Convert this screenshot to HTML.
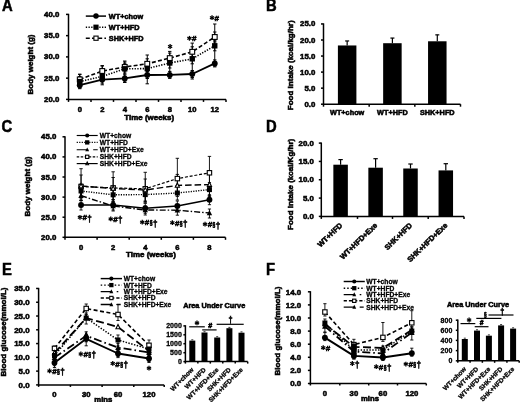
<!DOCTYPE html>
<html><head><meta charset="utf-8"><style>
html,body{margin:0;padding:0;background:#fff;width:520px;height:402px;overflow:hidden}
svg{display:block}
text{font-family:"Liberation Sans", sans-serif}
</style></head><body>
<svg width="520" height="402" viewBox="0 0 520 402">
<defs><filter id="bl" x="0" y="0" width="100%" height="100%"><feGaussianBlur stdDeviation="0.45"/></filter></defs>
<rect width="520" height="402" fill="#fff"/>
<g filter="url(#bl)">
<text x="1.90" y="10.80" font-size="15.6" text-anchor="start" font-weight="bold" transform="translate(1.90 10.80) scale(0.95 1) translate(-1.90 -10.80)" stroke="#000" stroke-width="0.5">A</text>
<text x="265.90" y="10.80" font-size="15.6" text-anchor="start" font-weight="bold" transform="translate(265.90 10.80) scale(0.95 1) translate(-265.90 -10.80)" stroke="#000" stroke-width="0.5">B</text>
<text x="1.40" y="131.90" font-size="15.6" text-anchor="start" font-weight="bold" transform="translate(1.40 131.90) scale(0.95 1) translate(-1.40 -131.90)" stroke="#000" stroke-width="0.5">C</text>
<text x="266.00" y="132.20" font-size="15.6" text-anchor="start" font-weight="bold" transform="translate(266.00 132.20) scale(0.95 1) translate(-266.00 -132.20)" stroke="#000" stroke-width="0.5">D</text>
<text x="2.00" y="274.90" font-size="15.6" text-anchor="start" font-weight="bold" transform="translate(2.00 274.90) scale(0.95 1) translate(-2.00 -274.90)" stroke="#000" stroke-width="0.5">E</text>
<text x="266.00" y="274.90" font-size="15.6" text-anchor="start" font-weight="bold" transform="translate(266.00 274.90) scale(0.95 1) translate(-266.00 -274.90)" stroke="#000" stroke-width="0.5">F</text>
<line x1="68.50" y1="13.80" x2="68.50" y2="100.00" stroke="#000" stroke-width="1.5"/>
<line x1="66.00" y1="14.40" x2="68.50" y2="14.40" stroke="#000" stroke-width="1.5"/>
<text x="59.30" y="16.91" font-size="7.8" text-anchor="end" font-weight="bold" stroke="#000" stroke-width="0.55">40.0</text>
<line x1="66.00" y1="35.65" x2="68.50" y2="35.65" stroke="#000" stroke-width="1.5"/>
<text x="59.30" y="38.16" font-size="7.8" text-anchor="end" font-weight="bold" stroke="#000" stroke-width="0.55">35.0</text>
<line x1="66.00" y1="56.90" x2="68.50" y2="56.90" stroke="#000" stroke-width="1.5"/>
<text x="59.30" y="59.41" font-size="7.8" text-anchor="end" font-weight="bold" stroke="#000" stroke-width="0.55">30.0</text>
<line x1="66.00" y1="78.15" x2="68.50" y2="78.15" stroke="#000" stroke-width="1.5"/>
<text x="59.30" y="80.66" font-size="7.8" text-anchor="end" font-weight="bold" stroke="#000" stroke-width="0.55">25.0</text>
<line x1="66.00" y1="99.40" x2="68.50" y2="99.40" stroke="#000" stroke-width="1.5"/>
<text x="59.30" y="101.91" font-size="7.8" text-anchor="end" font-weight="bold" stroke="#000" stroke-width="0.55">20.0</text>
<line x1="67.90" y1="99.40" x2="226.00" y2="99.40" stroke="#000" stroke-width="1.5"/>
<line x1="68.50" y1="99.40" x2="68.50" y2="101.90" stroke="#000" stroke-width="1.5"/>
<line x1="91.00" y1="99.40" x2="91.00" y2="101.90" stroke="#000" stroke-width="1.5"/>
<line x1="113.50" y1="99.40" x2="113.50" y2="101.90" stroke="#000" stroke-width="1.5"/>
<line x1="136.00" y1="99.40" x2="136.00" y2="101.90" stroke="#000" stroke-width="1.5"/>
<line x1="158.50" y1="99.40" x2="158.50" y2="101.90" stroke="#000" stroke-width="1.5"/>
<line x1="181.00" y1="99.40" x2="181.00" y2="101.90" stroke="#000" stroke-width="1.5"/>
<line x1="203.50" y1="99.40" x2="203.50" y2="101.90" stroke="#000" stroke-width="1.5"/>
<line x1="226.00" y1="99.40" x2="226.00" y2="101.90" stroke="#000" stroke-width="1.5"/>
<text x="79.75" y="112.04" font-size="7.6" text-anchor="middle" font-weight="bold" stroke="#000" stroke-width="0.55">0</text>
<text x="102.25" y="112.04" font-size="7.6" text-anchor="middle" font-weight="bold" stroke="#000" stroke-width="0.55">2</text>
<text x="124.75" y="112.04" font-size="7.6" text-anchor="middle" font-weight="bold" stroke="#000" stroke-width="0.55">4</text>
<text x="147.25" y="112.04" font-size="7.6" text-anchor="middle" font-weight="bold" stroke="#000" stroke-width="0.55">6</text>
<text x="169.75" y="112.04" font-size="7.6" text-anchor="middle" font-weight="bold" stroke="#000" stroke-width="0.55">8</text>
<text x="192.25" y="112.04" font-size="7.6" text-anchor="middle" font-weight="bold" stroke="#000" stroke-width="0.55">10</text>
<text x="214.75" y="112.04" font-size="7.6" text-anchor="middle" font-weight="bold" stroke="#000" stroke-width="0.55">12</text>
<text x="149.20" y="119.53" font-size="7.3" text-anchor="middle" font-weight="bold" transform="translate(149.20 119.53) scale(1.09 1) translate(-149.20 -119.53)" stroke="#000" stroke-width="0.55">Time (weeks)</text>
<text x="33.40" y="64.50" font-size="8" text-anchor="middle" font-weight="bold" transform="rotate(-90 33.40 64.50)" stroke="#000" stroke-width="0.55">Body weight (g)</text>
<line x1="79.75" y1="74.20" x2="79.75" y2="88.00" stroke="#000" stroke-width="1.0"/>
<line x1="78.05" y1="74.20" x2="81.45" y2="74.20" stroke="#000" stroke-width="1.0"/>
<line x1="78.05" y1="88.00" x2="81.45" y2="88.00" stroke="#000" stroke-width="1.0"/>
<line x1="79.75" y1="76.60" x2="79.75" y2="86.60" stroke="#000" stroke-width="1.0"/>
<line x1="78.05" y1="76.60" x2="81.45" y2="76.60" stroke="#000" stroke-width="1.0"/>
<line x1="78.05" y1="86.60" x2="81.45" y2="86.60" stroke="#000" stroke-width="1.0"/>
<line x1="79.75" y1="81.70" x2="79.75" y2="88.70" stroke="#000" stroke-width="1.0"/>
<line x1="78.05" y1="81.70" x2="81.45" y2="81.70" stroke="#000" stroke-width="1.0"/>
<line x1="78.05" y1="88.70" x2="81.45" y2="88.70" stroke="#000" stroke-width="1.0"/>
<line x1="79.75" y1="74.40" x2="79.75" y2="84.40" stroke="#000" stroke-width="1.0"/>
<line x1="78.05" y1="74.40" x2="81.45" y2="74.40" stroke="#000" stroke-width="1.0"/>
<line x1="78.05" y1="84.40" x2="81.45" y2="84.40" stroke="#000" stroke-width="1.0"/>
<line x1="102.25" y1="65.60" x2="102.25" y2="84.80" stroke="#000" stroke-width="1.0"/>
<line x1="100.55" y1="65.60" x2="103.95" y2="65.60" stroke="#000" stroke-width="1.0"/>
<line x1="100.55" y1="84.80" x2="103.95" y2="84.80" stroke="#000" stroke-width="1.0"/>
<line x1="102.25" y1="71.40" x2="102.25" y2="81.40" stroke="#000" stroke-width="1.0"/>
<line x1="100.55" y1="71.40" x2="103.95" y2="71.40" stroke="#000" stroke-width="1.0"/>
<line x1="100.55" y1="81.40" x2="103.95" y2="81.40" stroke="#000" stroke-width="1.0"/>
<line x1="102.25" y1="76.10" x2="102.25" y2="83.10" stroke="#000" stroke-width="1.0"/>
<line x1="100.55" y1="76.10" x2="103.95" y2="76.10" stroke="#000" stroke-width="1.0"/>
<line x1="100.55" y1="83.10" x2="103.95" y2="83.10" stroke="#000" stroke-width="1.0"/>
<line x1="102.25" y1="66.00" x2="102.25" y2="76.00" stroke="#000" stroke-width="1.0"/>
<line x1="100.55" y1="66.00" x2="103.95" y2="66.00" stroke="#000" stroke-width="1.0"/>
<line x1="100.55" y1="76.00" x2="103.95" y2="76.00" stroke="#000" stroke-width="1.0"/>
<line x1="124.75" y1="61.00" x2="124.75" y2="82.50" stroke="#000" stroke-width="1.0"/>
<line x1="123.05" y1="61.00" x2="126.45" y2="61.00" stroke="#000" stroke-width="1.0"/>
<line x1="123.05" y1="82.50" x2="126.45" y2="82.50" stroke="#000" stroke-width="1.0"/>
<line x1="124.75" y1="63.80" x2="124.75" y2="73.80" stroke="#000" stroke-width="1.0"/>
<line x1="123.05" y1="63.80" x2="126.45" y2="63.80" stroke="#000" stroke-width="1.0"/>
<line x1="123.05" y1="73.80" x2="126.45" y2="73.80" stroke="#000" stroke-width="1.0"/>
<line x1="124.75" y1="74.90" x2="124.75" y2="81.90" stroke="#000" stroke-width="1.0"/>
<line x1="123.05" y1="74.90" x2="126.45" y2="74.90" stroke="#000" stroke-width="1.0"/>
<line x1="123.05" y1="81.90" x2="126.45" y2="81.90" stroke="#000" stroke-width="1.0"/>
<line x1="124.75" y1="62.00" x2="124.75" y2="72.00" stroke="#000" stroke-width="1.0"/>
<line x1="123.05" y1="62.00" x2="126.45" y2="62.00" stroke="#000" stroke-width="1.0"/>
<line x1="123.05" y1="72.00" x2="126.45" y2="72.00" stroke="#000" stroke-width="1.0"/>
<line x1="147.25" y1="55.00" x2="147.25" y2="83.80" stroke="#000" stroke-width="1.0"/>
<line x1="145.55" y1="55.00" x2="148.95" y2="55.00" stroke="#000" stroke-width="1.0"/>
<line x1="145.55" y1="83.80" x2="148.95" y2="83.80" stroke="#000" stroke-width="1.0"/>
<line x1="147.25" y1="63.60" x2="147.25" y2="73.60" stroke="#000" stroke-width="1.0"/>
<line x1="145.55" y1="63.60" x2="148.95" y2="63.60" stroke="#000" stroke-width="1.0"/>
<line x1="145.55" y1="73.60" x2="148.95" y2="73.60" stroke="#000" stroke-width="1.0"/>
<line x1="147.25" y1="71.50" x2="147.25" y2="78.50" stroke="#000" stroke-width="1.0"/>
<line x1="145.55" y1="71.50" x2="148.95" y2="71.50" stroke="#000" stroke-width="1.0"/>
<line x1="145.55" y1="78.50" x2="148.95" y2="78.50" stroke="#000" stroke-width="1.0"/>
<line x1="147.25" y1="58.80" x2="147.25" y2="68.80" stroke="#000" stroke-width="1.0"/>
<line x1="145.55" y1="58.80" x2="148.95" y2="58.80" stroke="#000" stroke-width="1.0"/>
<line x1="145.55" y1="68.80" x2="148.95" y2="68.80" stroke="#000" stroke-width="1.0"/>
<line x1="169.75" y1="51.40" x2="169.75" y2="77.00" stroke="#000" stroke-width="1.0"/>
<line x1="168.05" y1="51.40" x2="171.45" y2="51.40" stroke="#000" stroke-width="1.0"/>
<line x1="168.05" y1="77.00" x2="171.45" y2="77.00" stroke="#000" stroke-width="1.0"/>
<line x1="169.75" y1="58.00" x2="169.75" y2="68.00" stroke="#000" stroke-width="1.0"/>
<line x1="168.05" y1="58.00" x2="171.45" y2="58.00" stroke="#000" stroke-width="1.0"/>
<line x1="168.05" y1="68.00" x2="171.45" y2="68.00" stroke="#000" stroke-width="1.0"/>
<line x1="169.75" y1="71.40" x2="169.75" y2="78.40" stroke="#000" stroke-width="1.0"/>
<line x1="168.05" y1="71.40" x2="171.45" y2="71.40" stroke="#000" stroke-width="1.0"/>
<line x1="168.05" y1="78.40" x2="171.45" y2="78.40" stroke="#000" stroke-width="1.0"/>
<line x1="169.75" y1="53.10" x2="169.75" y2="63.10" stroke="#000" stroke-width="1.0"/>
<line x1="168.05" y1="53.10" x2="171.45" y2="53.10" stroke="#000" stroke-width="1.0"/>
<line x1="168.05" y1="63.10" x2="171.45" y2="63.10" stroke="#000" stroke-width="1.0"/>
<line x1="192.25" y1="43.10" x2="192.25" y2="79.00" stroke="#000" stroke-width="1.0"/>
<line x1="190.55" y1="43.10" x2="193.95" y2="43.10" stroke="#000" stroke-width="1.0"/>
<line x1="190.55" y1="79.00" x2="193.95" y2="79.00" stroke="#000" stroke-width="1.0"/>
<line x1="192.25" y1="53.80" x2="192.25" y2="63.80" stroke="#000" stroke-width="1.0"/>
<line x1="190.55" y1="53.80" x2="193.95" y2="53.80" stroke="#000" stroke-width="1.0"/>
<line x1="190.55" y1="63.80" x2="193.95" y2="63.80" stroke="#000" stroke-width="1.0"/>
<line x1="192.25" y1="70.50" x2="192.25" y2="77.50" stroke="#000" stroke-width="1.0"/>
<line x1="190.55" y1="70.50" x2="193.95" y2="70.50" stroke="#000" stroke-width="1.0"/>
<line x1="190.55" y1="77.50" x2="193.95" y2="77.50" stroke="#000" stroke-width="1.0"/>
<line x1="192.25" y1="46.80" x2="192.25" y2="56.80" stroke="#000" stroke-width="1.0"/>
<line x1="190.55" y1="46.80" x2="193.95" y2="46.80" stroke="#000" stroke-width="1.0"/>
<line x1="190.55" y1="56.80" x2="193.95" y2="56.80" stroke="#000" stroke-width="1.0"/>
<line x1="214.75" y1="24.00" x2="214.75" y2="66.00" stroke="#000" stroke-width="1.0"/>
<line x1="213.05" y1="24.00" x2="216.45" y2="24.00" stroke="#000" stroke-width="1.0"/>
<line x1="213.05" y1="66.00" x2="216.45" y2="66.00" stroke="#000" stroke-width="1.0"/>
<line x1="214.75" y1="40.80" x2="214.75" y2="50.80" stroke="#000" stroke-width="1.0"/>
<line x1="213.05" y1="40.80" x2="216.45" y2="40.80" stroke="#000" stroke-width="1.0"/>
<line x1="213.05" y1="50.80" x2="216.45" y2="50.80" stroke="#000" stroke-width="1.0"/>
<line x1="214.75" y1="59.90" x2="214.75" y2="66.90" stroke="#000" stroke-width="1.0"/>
<line x1="213.05" y1="59.90" x2="216.45" y2="59.90" stroke="#000" stroke-width="1.0"/>
<line x1="213.05" y1="66.90" x2="216.45" y2="66.90" stroke="#000" stroke-width="1.0"/>
<line x1="214.75" y1="32.00" x2="214.75" y2="42.00" stroke="#000" stroke-width="1.0"/>
<line x1="213.05" y1="32.00" x2="216.45" y2="32.00" stroke="#000" stroke-width="1.0"/>
<line x1="213.05" y1="42.00" x2="216.45" y2="42.00" stroke="#000" stroke-width="1.0"/>
<polyline points="79.75,79.40 102.25,71.00 124.75,67.00 147.25,63.80 169.75,58.10 192.25,51.80 214.75,37.00" fill="none" stroke="#000" stroke-width="1.6" stroke-dasharray="4,2.2" stroke-linejoin="round"/>
<polyline points="79.75,81.60 102.25,76.40 124.75,68.80 147.25,68.60 169.75,63.00 192.25,58.80 214.75,45.80" fill="none" stroke="#000" stroke-width="1.6" stroke-dasharray="1.3,1.4" stroke-linejoin="round"/>
<polyline points="79.75,85.20 102.25,79.60 124.75,78.40 147.25,75.00 169.75,74.90 192.25,74.00 214.75,63.40" fill="none" stroke="#000" stroke-width="1.8" stroke-linejoin="round"/>
<rect x="77.35" y="77.00" width="4.80" height="4.80" fill="#fff" stroke="#000" stroke-width="1.1"/>
<rect x="77.05" y="78.90" width="5.40" height="5.40" fill="#000"/>
<circle cx="79.75" cy="85.20" r="2.94" fill="#000"/>
<rect x="99.85" y="68.60" width="4.80" height="4.80" fill="#fff" stroke="#000" stroke-width="1.1"/>
<rect x="99.55" y="73.70" width="5.40" height="5.40" fill="#000"/>
<circle cx="102.25" cy="79.60" r="2.94" fill="#000"/>
<rect x="122.35" y="64.60" width="4.80" height="4.80" fill="#fff" stroke="#000" stroke-width="1.1"/>
<rect x="122.05" y="66.10" width="5.40" height="5.40" fill="#000"/>
<circle cx="124.75" cy="78.40" r="2.94" fill="#000"/>
<rect x="144.85" y="61.40" width="4.80" height="4.80" fill="#fff" stroke="#000" stroke-width="1.1"/>
<rect x="144.55" y="65.90" width="5.40" height="5.40" fill="#000"/>
<circle cx="147.25" cy="75.00" r="2.94" fill="#000"/>
<rect x="167.35" y="55.70" width="4.80" height="4.80" fill="#fff" stroke="#000" stroke-width="1.1"/>
<rect x="167.05" y="60.30" width="5.40" height="5.40" fill="#000"/>
<circle cx="169.75" cy="74.90" r="2.94" fill="#000"/>
<rect x="189.85" y="49.40" width="4.80" height="4.80" fill="#fff" stroke="#000" stroke-width="1.1"/>
<rect x="189.55" y="56.10" width="5.40" height="5.40" fill="#000"/>
<circle cx="192.25" cy="74.00" r="2.94" fill="#000"/>
<rect x="212.35" y="34.60" width="4.80" height="4.80" fill="#fff" stroke="#000" stroke-width="1.1"/>
<rect x="212.05" y="43.10" width="5.40" height="5.40" fill="#000"/>
<circle cx="214.75" cy="63.40" r="2.94" fill="#000"/>
<line x1="170.10" y1="44.09" x2="170.10" y2="48.91" stroke="#000" stroke-width="1.3"/>
<line x1="172.19" y1="45.29" x2="168.01" y2="47.71" stroke="#000" stroke-width="1.3"/>
<line x1="172.19" y1="47.71" x2="168.01" y2="45.29" stroke="#000" stroke-width="1.3"/>
<line x1="189.43" y1="35.89" x2="189.43" y2="40.72" stroke="#000" stroke-width="1.3"/>
<line x1="191.52" y1="37.09" x2="187.33" y2="39.51" stroke="#000" stroke-width="1.3"/>
<line x1="191.52" y1="39.51" x2="187.33" y2="37.09" stroke="#000" stroke-width="1.3"/>
<text x="194.25" y="41.48" font-size="8.0" text-anchor="middle" font-weight="bold" stroke="#000" stroke-width="0.55">#</text>
<line x1="212.03" y1="15.29" x2="212.03" y2="20.11" stroke="#000" stroke-width="1.3"/>
<line x1="214.12" y1="16.49" x2="209.93" y2="18.91" stroke="#000" stroke-width="1.3"/>
<line x1="214.12" y1="18.91" x2="209.93" y2="16.49" stroke="#000" stroke-width="1.3"/>
<text x="216.85" y="20.88" font-size="8.0" text-anchor="middle" font-weight="bold" stroke="#000" stroke-width="0.55">#</text>
<line x1="85.80" y1="16.10" x2="106.00" y2="16.10" stroke="#000" stroke-width="1.5"/>
<circle cx="96.00" cy="16.10" r="2.73" fill="#000"/>
<text x="108.80" y="18.73" font-size="7.3" text-anchor="start" font-weight="bold" stroke="#000" stroke-width="0.55">WT+chow</text>
<line x1="85.80" y1="27.20" x2="106.00" y2="27.20" stroke="#000" stroke-width="1.5" stroke-dasharray="1.3,1.4"/>
<rect x="93.40" y="24.60" width="5.20" height="5.20" fill="#000"/>
<text x="108.80" y="29.83" font-size="7.3" text-anchor="start" font-weight="bold" stroke="#000" stroke-width="0.55">WT+HFD</text>
<line x1="85.80" y1="38.20" x2="106.00" y2="38.20" stroke="#000" stroke-width="1.5" stroke-dasharray="4,2.2"/>
<rect x="93.90" y="36.10" width="4.20" height="4.20" fill="#fff" stroke="#000" stroke-width="1.1"/>
<text x="108.80" y="40.83" font-size="7.3" text-anchor="start" font-weight="bold" stroke="#000" stroke-width="0.55">SHK+HFD</text>
<line x1="323.50" y1="23.35" x2="323.50" y2="104.80" stroke="#000" stroke-width="1.5"/>
<line x1="321.00" y1="23.95" x2="323.50" y2="23.95" stroke="#000" stroke-width="1.5"/>
<text x="315.30" y="26.46" font-size="7.8" text-anchor="end" font-weight="bold" stroke="#000" stroke-width="0.55">25.0</text>
<line x1="321.00" y1="40.00" x2="323.50" y2="40.00" stroke="#000" stroke-width="1.5"/>
<text x="315.30" y="42.51" font-size="7.8" text-anchor="end" font-weight="bold" stroke="#000" stroke-width="0.55">20.0</text>
<line x1="321.00" y1="56.05" x2="323.50" y2="56.05" stroke="#000" stroke-width="1.5"/>
<text x="315.30" y="58.56" font-size="7.8" text-anchor="end" font-weight="bold" stroke="#000" stroke-width="0.55">15.0</text>
<line x1="321.00" y1="72.10" x2="323.50" y2="72.10" stroke="#000" stroke-width="1.5"/>
<text x="315.30" y="74.61" font-size="7.8" text-anchor="end" font-weight="bold" stroke="#000" stroke-width="0.55">10.0</text>
<line x1="321.00" y1="88.15" x2="323.50" y2="88.15" stroke="#000" stroke-width="1.5"/>
<text x="315.30" y="90.66" font-size="7.8" text-anchor="end" font-weight="bold" stroke="#000" stroke-width="0.55">5.0</text>
<line x1="321.00" y1="104.20" x2="323.50" y2="104.20" stroke="#000" stroke-width="1.5"/>
<text x="315.30" y="106.71" font-size="7.8" text-anchor="end" font-weight="bold" stroke="#000" stroke-width="0.55">0.0</text>
<line x1="322.90" y1="104.20" x2="460.50" y2="104.20" stroke="#000" stroke-width="1.5"/>
<line x1="323.50" y1="104.20" x2="323.50" y2="106.70" stroke="#000" stroke-width="1.5"/>
<line x1="369.17" y1="104.20" x2="369.17" y2="106.70" stroke="#000" stroke-width="1.5"/>
<line x1="414.83" y1="104.20" x2="414.83" y2="106.70" stroke="#000" stroke-width="1.5"/>
<line x1="460.50" y1="104.20" x2="460.50" y2="106.70" stroke="#000" stroke-width="1.5"/>
<line x1="347.15" y1="40.96" x2="347.15" y2="45.46" stroke="#000" stroke-width="1.2"/>
<line x1="345.15" y1="40.96" x2="349.15" y2="40.96" stroke="#000" stroke-width="1.2"/>
<rect x="337.90" y="45.46" width="18.50" height="58.74" fill="#000"/>
<text x="347.15" y="115.03" font-size="7.3" text-anchor="middle" font-weight="bold" stroke="#000" stroke-width="0.55">WT+chow</text>
<line x1="392.40" y1="38.07" x2="392.40" y2="43.21" stroke="#000" stroke-width="1.2"/>
<line x1="390.40" y1="38.07" x2="394.40" y2="38.07" stroke="#000" stroke-width="1.2"/>
<rect x="383.15" y="43.21" width="18.50" height="60.99" fill="#000"/>
<text x="392.40" y="115.03" font-size="7.3" text-anchor="middle" font-weight="bold" stroke="#000" stroke-width="0.55">WT+HFD</text>
<line x1="437.30" y1="34.86" x2="437.30" y2="41.28" stroke="#000" stroke-width="1.2"/>
<line x1="435.30" y1="34.86" x2="439.30" y2="34.86" stroke="#000" stroke-width="1.2"/>
<rect x="428.05" y="41.28" width="18.50" height="62.92" fill="#000"/>
<text x="437.30" y="115.03" font-size="7.3" text-anchor="middle" font-weight="bold" stroke="#000" stroke-width="0.55">SHK+HFD</text>
<text x="293.40" y="65.25" font-size="8" text-anchor="middle" font-weight="bold" transform="rotate(-90 293.40 65.25)" stroke="#000" stroke-width="0.55">Food intake (kcal/kg/hr)</text>
<line x1="65.00" y1="136.20" x2="65.00" y2="237.90" stroke="#000" stroke-width="1.5"/>
<line x1="62.50" y1="136.80" x2="65.00" y2="136.80" stroke="#000" stroke-width="1.5"/>
<text x="56.30" y="139.31" font-size="7.8" text-anchor="end" font-weight="bold" stroke="#000" stroke-width="0.55">45.0</text>
<line x1="62.50" y1="156.90" x2="65.00" y2="156.90" stroke="#000" stroke-width="1.5"/>
<text x="56.30" y="159.41" font-size="7.8" text-anchor="end" font-weight="bold" stroke="#000" stroke-width="0.55">40.0</text>
<line x1="62.50" y1="177.00" x2="65.00" y2="177.00" stroke="#000" stroke-width="1.5"/>
<text x="56.30" y="179.51" font-size="7.8" text-anchor="end" font-weight="bold" stroke="#000" stroke-width="0.55">35.0</text>
<line x1="62.50" y1="197.10" x2="65.00" y2="197.10" stroke="#000" stroke-width="1.5"/>
<text x="56.30" y="199.61" font-size="7.8" text-anchor="end" font-weight="bold" stroke="#000" stroke-width="0.55">30.0</text>
<line x1="62.50" y1="217.20" x2="65.00" y2="217.20" stroke="#000" stroke-width="1.5"/>
<text x="56.30" y="219.71" font-size="7.8" text-anchor="end" font-weight="bold" stroke="#000" stroke-width="0.55">25.0</text>
<line x1="62.50" y1="237.30" x2="65.00" y2="237.30" stroke="#000" stroke-width="1.5"/>
<text x="56.30" y="239.81" font-size="7.8" text-anchor="end" font-weight="bold" stroke="#000" stroke-width="0.55">20.0</text>
<line x1="64.40" y1="237.30" x2="225.50" y2="237.30" stroke="#000" stroke-width="1.5"/>
<line x1="65.00" y1="237.30" x2="65.00" y2="239.80" stroke="#000" stroke-width="1.5"/>
<line x1="97.10" y1="237.30" x2="97.10" y2="239.80" stroke="#000" stroke-width="1.5"/>
<line x1="129.20" y1="237.30" x2="129.20" y2="239.80" stroke="#000" stroke-width="1.5"/>
<line x1="161.30" y1="237.30" x2="161.30" y2="239.80" stroke="#000" stroke-width="1.5"/>
<line x1="193.40" y1="237.30" x2="193.40" y2="239.80" stroke="#000" stroke-width="1.5"/>
<line x1="225.50" y1="237.30" x2="225.50" y2="239.80" stroke="#000" stroke-width="1.5"/>
<text x="81.05" y="250.24" font-size="7.6" text-anchor="middle" font-weight="bold" stroke="#000" stroke-width="0.55">0</text>
<text x="113.15" y="250.24" font-size="7.6" text-anchor="middle" font-weight="bold" stroke="#000" stroke-width="0.55">2</text>
<text x="145.25" y="250.24" font-size="7.6" text-anchor="middle" font-weight="bold" stroke="#000" stroke-width="0.55">4</text>
<text x="177.35" y="250.24" font-size="7.6" text-anchor="middle" font-weight="bold" stroke="#000" stroke-width="0.55">6</text>
<text x="209.45" y="250.24" font-size="7.6" text-anchor="middle" font-weight="bold" stroke="#000" stroke-width="0.55">8</text>
<text x="151.00" y="256.73" font-size="7.3" text-anchor="middle" font-weight="bold" transform="translate(151.00 256.73) scale(1.09 1) translate(-151.00 -256.73)" stroke="#000" stroke-width="0.55">Time (weeks)</text>
<text x="29.90" y="186.50" font-size="8" text-anchor="middle" font-weight="bold" transform="rotate(-90 29.90 186.50)" stroke="#000" stroke-width="0.55">Body weight (g)</text>
<line x1="81.05" y1="168.70" x2="81.05" y2="200.50" stroke="#000" stroke-width="0.9"/>
<line x1="79.35" y1="168.70" x2="82.75" y2="168.70" stroke="#000" stroke-width="0.9"/>
<line x1="79.35" y1="200.50" x2="82.75" y2="200.50" stroke="#000" stroke-width="0.9"/>
<line x1="81.05" y1="175.00" x2="81.05" y2="197.00" stroke="#000" stroke-width="0.9"/>
<line x1="79.35" y1="175.00" x2="82.75" y2="175.00" stroke="#000" stroke-width="0.9"/>
<line x1="79.35" y1="197.00" x2="82.75" y2="197.00" stroke="#000" stroke-width="0.9"/>
<line x1="81.05" y1="184.00" x2="81.05" y2="198.00" stroke="#000" stroke-width="0.9"/>
<line x1="79.45" y1="184.00" x2="82.65" y2="184.00" stroke="#000" stroke-width="0.9"/>
<line x1="79.45" y1="198.00" x2="82.65" y2="198.00" stroke="#000" stroke-width="0.9"/>
<line x1="81.05" y1="200.00" x2="81.05" y2="210.00" stroke="#000" stroke-width="0.9"/>
<line x1="79.45" y1="200.00" x2="82.65" y2="200.00" stroke="#000" stroke-width="0.9"/>
<line x1="79.45" y1="210.00" x2="82.65" y2="210.00" stroke="#000" stroke-width="0.9"/>
<line x1="81.05" y1="191.70" x2="81.05" y2="200.70" stroke="#000" stroke-width="0.9"/>
<line x1="79.45" y1="191.70" x2="82.65" y2="191.70" stroke="#000" stroke-width="0.9"/>
<line x1="79.45" y1="200.70" x2="82.65" y2="200.70" stroke="#000" stroke-width="0.9"/>
<line x1="113.15" y1="171.80" x2="113.15" y2="201.90" stroke="#000" stroke-width="0.9"/>
<line x1="111.45" y1="171.80" x2="114.85" y2="171.80" stroke="#000" stroke-width="0.9"/>
<line x1="111.45" y1="201.90" x2="114.85" y2="201.90" stroke="#000" stroke-width="0.9"/>
<line x1="113.15" y1="177.50" x2="113.15" y2="199.50" stroke="#000" stroke-width="0.9"/>
<line x1="111.45" y1="177.50" x2="114.85" y2="177.50" stroke="#000" stroke-width="0.9"/>
<line x1="111.45" y1="199.50" x2="114.85" y2="199.50" stroke="#000" stroke-width="0.9"/>
<line x1="113.15" y1="187.80" x2="113.15" y2="201.80" stroke="#000" stroke-width="0.9"/>
<line x1="111.55" y1="187.80" x2="114.75" y2="187.80" stroke="#000" stroke-width="0.9"/>
<line x1="111.55" y1="201.80" x2="114.75" y2="201.80" stroke="#000" stroke-width="0.9"/>
<line x1="113.15" y1="200.00" x2="113.15" y2="210.00" stroke="#000" stroke-width="0.9"/>
<line x1="111.55" y1="200.00" x2="114.75" y2="200.00" stroke="#000" stroke-width="0.9"/>
<line x1="111.55" y1="210.00" x2="114.75" y2="210.00" stroke="#000" stroke-width="0.9"/>
<line x1="113.15" y1="202.00" x2="113.15" y2="211.00" stroke="#000" stroke-width="0.9"/>
<line x1="111.55" y1="202.00" x2="114.75" y2="202.00" stroke="#000" stroke-width="0.9"/>
<line x1="111.55" y1="211.00" x2="114.75" y2="211.00" stroke="#000" stroke-width="0.9"/>
<line x1="145.25" y1="172.30" x2="145.25" y2="202.80" stroke="#000" stroke-width="0.9"/>
<line x1="143.55" y1="172.30" x2="146.95" y2="172.30" stroke="#000" stroke-width="0.9"/>
<line x1="143.55" y1="202.80" x2="146.95" y2="202.80" stroke="#000" stroke-width="0.9"/>
<line x1="145.25" y1="179.00" x2="145.25" y2="201.00" stroke="#000" stroke-width="0.9"/>
<line x1="143.55" y1="179.00" x2="146.95" y2="179.00" stroke="#000" stroke-width="0.9"/>
<line x1="143.55" y1="201.00" x2="146.95" y2="201.00" stroke="#000" stroke-width="0.9"/>
<line x1="145.25" y1="187.60" x2="145.25" y2="201.60" stroke="#000" stroke-width="0.9"/>
<line x1="143.65" y1="187.60" x2="146.85" y2="187.60" stroke="#000" stroke-width="0.9"/>
<line x1="143.65" y1="201.60" x2="146.85" y2="201.60" stroke="#000" stroke-width="0.9"/>
<line x1="145.25" y1="203.30" x2="145.25" y2="213.30" stroke="#000" stroke-width="0.9"/>
<line x1="143.65" y1="203.30" x2="146.85" y2="203.30" stroke="#000" stroke-width="0.9"/>
<line x1="143.65" y1="213.30" x2="146.85" y2="213.30" stroke="#000" stroke-width="0.9"/>
<line x1="145.25" y1="206.00" x2="145.25" y2="215.00" stroke="#000" stroke-width="0.9"/>
<line x1="143.65" y1="206.00" x2="146.85" y2="206.00" stroke="#000" stroke-width="0.9"/>
<line x1="143.65" y1="215.00" x2="146.85" y2="215.00" stroke="#000" stroke-width="0.9"/>
<line x1="177.35" y1="158.30" x2="177.35" y2="192.60" stroke="#000" stroke-width="0.9"/>
<line x1="175.65" y1="158.30" x2="179.05" y2="158.30" stroke="#000" stroke-width="0.9"/>
<line x1="175.65" y1="192.60" x2="179.05" y2="192.60" stroke="#000" stroke-width="0.9"/>
<line x1="177.35" y1="174.40" x2="177.35" y2="196.40" stroke="#000" stroke-width="0.9"/>
<line x1="175.65" y1="174.40" x2="179.05" y2="174.40" stroke="#000" stroke-width="0.9"/>
<line x1="175.65" y1="196.40" x2="179.05" y2="196.40" stroke="#000" stroke-width="0.9"/>
<line x1="177.35" y1="186.00" x2="177.35" y2="200.00" stroke="#000" stroke-width="0.9"/>
<line x1="175.75" y1="186.00" x2="178.95" y2="186.00" stroke="#000" stroke-width="0.9"/>
<line x1="175.75" y1="200.00" x2="178.95" y2="200.00" stroke="#000" stroke-width="0.9"/>
<line x1="177.35" y1="201.00" x2="177.35" y2="211.00" stroke="#000" stroke-width="0.9"/>
<line x1="175.75" y1="201.00" x2="178.95" y2="201.00" stroke="#000" stroke-width="0.9"/>
<line x1="175.75" y1="211.00" x2="178.95" y2="211.00" stroke="#000" stroke-width="0.9"/>
<line x1="177.35" y1="206.20" x2="177.35" y2="215.20" stroke="#000" stroke-width="0.9"/>
<line x1="175.75" y1="206.20" x2="178.95" y2="206.20" stroke="#000" stroke-width="0.9"/>
<line x1="175.75" y1="215.20" x2="178.95" y2="215.20" stroke="#000" stroke-width="0.9"/>
<line x1="209.45" y1="156.40" x2="209.45" y2="186.80" stroke="#000" stroke-width="0.9"/>
<line x1="207.75" y1="156.40" x2="211.15" y2="156.40" stroke="#000" stroke-width="0.9"/>
<line x1="207.75" y1="186.80" x2="211.15" y2="186.80" stroke="#000" stroke-width="0.9"/>
<line x1="209.45" y1="173.60" x2="209.45" y2="195.60" stroke="#000" stroke-width="0.9"/>
<line x1="207.75" y1="173.60" x2="211.15" y2="173.60" stroke="#000" stroke-width="0.9"/>
<line x1="207.75" y1="195.60" x2="211.15" y2="195.60" stroke="#000" stroke-width="0.9"/>
<line x1="209.45" y1="182.60" x2="209.45" y2="196.60" stroke="#000" stroke-width="0.9"/>
<line x1="207.85" y1="182.60" x2="211.05" y2="182.60" stroke="#000" stroke-width="0.9"/>
<line x1="207.85" y1="196.60" x2="211.05" y2="196.60" stroke="#000" stroke-width="0.9"/>
<line x1="209.45" y1="194.70" x2="209.45" y2="204.70" stroke="#000" stroke-width="0.9"/>
<line x1="207.85" y1="194.70" x2="211.05" y2="194.70" stroke="#000" stroke-width="0.9"/>
<line x1="207.85" y1="204.70" x2="211.05" y2="204.70" stroke="#000" stroke-width="0.9"/>
<line x1="209.45" y1="209.00" x2="209.45" y2="218.00" stroke="#000" stroke-width="0.9"/>
<line x1="207.85" y1="209.00" x2="211.05" y2="209.00" stroke="#000" stroke-width="0.9"/>
<line x1="207.85" y1="218.00" x2="211.05" y2="218.00" stroke="#000" stroke-width="0.9"/>
<polyline points="81.05,186.50 113.15,187.90 145.25,188.80 177.35,178.60 209.45,172.80" fill="none" stroke="#000" stroke-width="1.2" stroke-dasharray="3,1.8" stroke-linejoin="round"/>
<polyline points="81.05,186.00 113.15,188.50 145.25,190.00 177.35,185.40 209.45,184.60" fill="none" stroke="#000" stroke-width="1.4" stroke-dasharray="6.5,3" stroke-linejoin="round"/>
<polyline points="81.05,191.00 113.15,194.80 145.25,194.60 177.35,193.00 209.45,189.60" fill="none" stroke="#000" stroke-width="1.4" stroke-dasharray="1.2,1.3" stroke-linejoin="round"/>
<polyline points="81.05,195.70 113.15,206.00 145.25,210.00 177.35,210.20 209.45,213.00" fill="none" stroke="#000" stroke-width="1.4" stroke-dasharray="6,2,1.5,2" stroke-linejoin="round"/>
<polyline points="81.05,205.00 113.15,205.00 145.25,208.30 177.35,206.00 209.45,199.70" fill="none" stroke="#000" stroke-width="1.6" stroke-linejoin="round"/>
<rect x="78.85" y="184.30" width="4.40" height="4.40" fill="#fff" stroke="#000" stroke-width="1.1"/>
<polygon points="81.05,183.50 83.15,187.79 78.95,187.79" fill="#fff" stroke="#000" stroke-width="1.1"/>
<rect x="78.55" y="188.50" width="5.00" height="5.00" fill="#000"/>
<polygon points="81.05,192.59 83.75,197.99 78.35,197.99" fill="#000"/>
<circle cx="81.05" cy="205.00" r="2.94" fill="#000"/>
<rect x="110.95" y="185.70" width="4.40" height="4.40" fill="#fff" stroke="#000" stroke-width="1.1"/>
<polygon points="113.15,186.00 115.25,190.29 111.05,190.29" fill="#fff" stroke="#000" stroke-width="1.1"/>
<rect x="110.65" y="192.30" width="5.00" height="5.00" fill="#000"/>
<polygon points="113.15,202.90 115.85,208.29 110.45,208.29" fill="#000"/>
<circle cx="113.15" cy="205.00" r="2.94" fill="#000"/>
<rect x="143.05" y="186.60" width="4.40" height="4.40" fill="#fff" stroke="#000" stroke-width="1.1"/>
<polygon points="145.25,187.50 147.35,191.79 143.15,191.79" fill="#fff" stroke="#000" stroke-width="1.1"/>
<rect x="142.75" y="192.10" width="5.00" height="5.00" fill="#000"/>
<polygon points="145.25,206.90 147.95,212.29 142.55,212.29" fill="#000"/>
<circle cx="145.25" cy="208.30" r="2.94" fill="#000"/>
<rect x="175.15" y="176.40" width="4.40" height="4.40" fill="#fff" stroke="#000" stroke-width="1.1"/>
<polygon points="177.35,182.90 179.45,187.19 175.25,187.19" fill="#fff" stroke="#000" stroke-width="1.1"/>
<rect x="174.85" y="190.50" width="5.00" height="5.00" fill="#000"/>
<polygon points="177.35,207.09 180.05,212.49 174.65,212.49" fill="#000"/>
<circle cx="177.35" cy="206.00" r="2.94" fill="#000"/>
<rect x="207.25" y="170.60" width="4.40" height="4.40" fill="#fff" stroke="#000" stroke-width="1.1"/>
<polygon points="209.45,182.09 211.55,186.39 207.35,186.39" fill="#fff" stroke="#000" stroke-width="1.1"/>
<rect x="206.95" y="187.10" width="5.00" height="5.00" fill="#000"/>
<polygon points="209.45,209.90 212.15,215.29 206.75,215.29" fill="#000"/>
<circle cx="209.45" cy="199.70" r="2.94" fill="#000"/>
<line x1="79.95" y1="214.88" x2="79.95" y2="219.71" stroke="#000" stroke-width="1.3"/>
<line x1="82.04" y1="216.09" x2="77.86" y2="218.51" stroke="#000" stroke-width="1.3"/>
<line x1="82.04" y1="218.51" x2="77.86" y2="216.09" stroke="#000" stroke-width="1.3"/>
<text x="84.78" y="220.48" font-size="8.0" text-anchor="middle" font-weight="bold" stroke="#000" stroke-width="0.55">#</text>
<text x="89.52" y="221.65" font-size="9.60" text-anchor="middle" font-weight="bold" stroke="#000" stroke-width="0.55" transform="translate(89.52 0) scale(0.85 1) translate(-89.52 0)">†</text>
<line x1="110.75" y1="216.48" x2="110.75" y2="221.31" stroke="#000" stroke-width="1.3"/>
<line x1="112.84" y1="217.69" x2="108.66" y2="220.11" stroke="#000" stroke-width="1.3"/>
<line x1="112.84" y1="220.11" x2="108.66" y2="217.69" stroke="#000" stroke-width="1.3"/>
<text x="115.58" y="222.08" font-size="8.0" text-anchor="middle" font-weight="bold" stroke="#000" stroke-width="0.55">#</text>
<text x="120.32" y="223.25" font-size="9.60" text-anchor="middle" font-weight="bold" stroke="#000" stroke-width="0.55" transform="translate(120.32 0) scale(0.85 1) translate(-120.32 0)">†</text>
<line x1="142.25" y1="219.78" x2="142.25" y2="224.61" stroke="#000" stroke-width="1.3"/>
<line x1="144.34" y1="220.99" x2="140.15" y2="223.41" stroke="#000" stroke-width="1.3"/>
<line x1="144.34" y1="223.41" x2="140.15" y2="220.99" stroke="#000" stroke-width="1.3"/>
<text x="147.07" y="225.38" font-size="8.0" text-anchor="middle" font-weight="bold" stroke="#000" stroke-width="0.55">#</text>
<text x="151.15" y="225.38" font-size="6.80" text-anchor="middle" font-weight="bold" stroke="#000" stroke-width="0.55" transform="translate(151.15 0) scale(0.75 1) translate(-151.15 0)">§</text>
<text x="155.23" y="226.55" font-size="9.60" text-anchor="middle" font-weight="bold" stroke="#000" stroke-width="0.55" transform="translate(155.23 0) scale(0.85 1) translate(-155.23 0)">†</text>
<line x1="172.35" y1="220.28" x2="172.35" y2="225.11" stroke="#000" stroke-width="1.3"/>
<line x1="174.44" y1="221.49" x2="170.25" y2="223.91" stroke="#000" stroke-width="1.3"/>
<line x1="174.44" y1="223.91" x2="170.25" y2="221.49" stroke="#000" stroke-width="1.3"/>
<text x="177.17" y="225.88" font-size="8.0" text-anchor="middle" font-weight="bold" stroke="#000" stroke-width="0.55">#</text>
<text x="181.25" y="225.88" font-size="6.80" text-anchor="middle" font-weight="bold" stroke="#000" stroke-width="0.55" transform="translate(181.25 0) scale(0.75 1) translate(-181.25 0)">§</text>
<text x="185.33" y="227.05" font-size="9.60" text-anchor="middle" font-weight="bold" stroke="#000" stroke-width="0.55" transform="translate(185.33 0) scale(0.85 1) translate(-185.33 0)">†</text>
<line x1="205.05" y1="221.78" x2="205.05" y2="226.61" stroke="#000" stroke-width="1.3"/>
<line x1="207.14" y1="222.99" x2="202.95" y2="225.41" stroke="#000" stroke-width="1.3"/>
<line x1="207.14" y1="225.41" x2="202.95" y2="222.99" stroke="#000" stroke-width="1.3"/>
<text x="209.87" y="227.38" font-size="8.0" text-anchor="middle" font-weight="bold" stroke="#000" stroke-width="0.55">#</text>
<text x="213.95" y="227.38" font-size="6.80" text-anchor="middle" font-weight="bold" stroke="#000" stroke-width="0.55" transform="translate(213.95 0) scale(0.75 1) translate(-213.95 0)">§</text>
<text x="218.03" y="228.55" font-size="9.60" text-anchor="middle" font-weight="bold" stroke="#000" stroke-width="0.55" transform="translate(218.03 0) scale(0.85 1) translate(-218.03 0)">†</text>
<line x1="76.70" y1="135.50" x2="97.70" y2="135.50" stroke="#000" stroke-width="1.15"/>
<circle cx="87.20" cy="135.50" r="2.05" fill="#000"/>
<text x="99.80" y="137.91" font-size="6.7" text-anchor="start" font-weight="bold" stroke="#000" stroke-width="0.3">WT+chow</text>
<line x1="76.70" y1="142.40" x2="97.70" y2="142.40" stroke="#000" stroke-width="1.15" stroke-dasharray="1.2,1.3"/>
<rect x="85.05" y="140.25" width="4.30" height="4.30" fill="#000"/>
<text x="99.80" y="144.81" font-size="6.7" text-anchor="start" font-weight="bold" stroke="#000" stroke-width="0.3">WT+HFD</text>
<line x1="76.70" y1="149.70" x2="97.70" y2="149.70" stroke="#000" stroke-width="1.15" stroke-dasharray="11.5,5,4.5,10"/>
<polygon points="87.20,147.46 89.15,151.36 85.25,151.36" fill="#000"/>
<text x="99.80" y="152.11" font-size="6.7" text-anchor="start" font-weight="bold" stroke="#000" stroke-width="0.3">WT+HFD+Exe</text>
<line x1="76.70" y1="156.80" x2="97.70" y2="156.80" stroke="#000" stroke-width="1.15" stroke-dasharray="2.5,1.5"/>
<rect x="85.55" y="155.15" width="3.30" height="3.30" fill="#fff" stroke="#000" stroke-width="1.1"/>
<text x="99.80" y="159.21" font-size="6.7" text-anchor="start" font-weight="bold" stroke="#000" stroke-width="0.3">SHK+HFD</text>
<line x1="76.70" y1="163.60" x2="97.70" y2="163.60" stroke="#000" stroke-width="1.15"/>
<polygon points="87.20,161.96 88.55,164.76 85.85,164.76" fill="#fff" stroke="#000" stroke-width="1.1"/>
<text x="99.80" y="166.01" font-size="6.7" text-anchor="start" font-weight="bold" stroke="#000" stroke-width="0.3">SHK+HFD+Exe</text>
<line x1="321.30" y1="142.50" x2="321.30" y2="217.00" stroke="#000" stroke-width="1.5"/>
<line x1="318.80" y1="143.10" x2="321.30" y2="143.10" stroke="#000" stroke-width="1.5"/>
<text x="313.80" y="145.61" font-size="7.8" text-anchor="end" font-weight="bold" stroke="#000" stroke-width="0.55">20.0</text>
<line x1="318.80" y1="161.43" x2="321.30" y2="161.43" stroke="#000" stroke-width="1.5"/>
<text x="313.80" y="163.93" font-size="7.8" text-anchor="end" font-weight="bold" stroke="#000" stroke-width="0.55">15.0</text>
<line x1="318.80" y1="179.75" x2="321.30" y2="179.75" stroke="#000" stroke-width="1.5"/>
<text x="313.80" y="182.26" font-size="7.8" text-anchor="end" font-weight="bold" stroke="#000" stroke-width="0.55">10.0</text>
<line x1="318.80" y1="198.08" x2="321.30" y2="198.08" stroke="#000" stroke-width="1.5"/>
<text x="313.80" y="200.58" font-size="7.8" text-anchor="end" font-weight="bold" stroke="#000" stroke-width="0.55">5.0</text>
<line x1="318.80" y1="216.40" x2="321.30" y2="216.40" stroke="#000" stroke-width="1.5"/>
<text x="313.80" y="218.91" font-size="7.8" text-anchor="end" font-weight="bold" stroke="#000" stroke-width="0.55">0.0</text>
<line x1="320.70" y1="216.40" x2="464.00" y2="216.40" stroke="#000" stroke-width="1.5"/>
<line x1="321.30" y1="216.40" x2="321.30" y2="218.90" stroke="#000" stroke-width="1.5"/>
<line x1="357.50" y1="216.40" x2="357.50" y2="218.90" stroke="#000" stroke-width="1.5"/>
<line x1="392.50" y1="216.40" x2="392.50" y2="218.90" stroke="#000" stroke-width="1.5"/>
<line x1="428.20" y1="216.40" x2="428.20" y2="218.90" stroke="#000" stroke-width="1.5"/>
<line x1="464.00" y1="216.40" x2="464.00" y2="218.90" stroke="#000" stroke-width="1.5"/>
<line x1="340.60" y1="159.60" x2="340.60" y2="164.70" stroke="#000" stroke-width="1.2"/>
<line x1="338.40" y1="159.60" x2="342.80" y2="159.60" stroke="#000" stroke-width="1.2"/>
<rect x="333.35" y="164.70" width="14.50" height="51.70" fill="#000"/>
<text x="342.80" y="226.00" font-size="7.4" text-anchor="end" font-weight="bold" transform="rotate(-44 342.80 226.00)" stroke="#000" stroke-width="0.55">WT+HFD</text>
<line x1="375.60" y1="158.70" x2="375.60" y2="167.70" stroke="#000" stroke-width="1.2"/>
<line x1="373.40" y1="158.70" x2="377.80" y2="158.70" stroke="#000" stroke-width="1.2"/>
<rect x="368.35" y="167.70" width="14.50" height="48.70" fill="#000"/>
<text x="377.80" y="226.00" font-size="7.4" text-anchor="end" font-weight="bold" transform="rotate(-44 377.80 226.00)" stroke="#000" stroke-width="0.55">WT+HFD+Exe</text>
<line x1="410.50" y1="164.00" x2="410.50" y2="168.50" stroke="#000" stroke-width="1.2"/>
<line x1="408.30" y1="164.00" x2="412.70" y2="164.00" stroke="#000" stroke-width="1.2"/>
<rect x="403.25" y="168.50" width="14.50" height="47.90" fill="#000"/>
<text x="412.70" y="226.00" font-size="7.4" text-anchor="end" font-weight="bold" transform="rotate(-44 412.70 226.00)" stroke="#000" stroke-width="0.55">SHK+HFD</text>
<line x1="445.80" y1="163.70" x2="445.80" y2="170.40" stroke="#000" stroke-width="1.2"/>
<line x1="443.60" y1="163.70" x2="448.00" y2="163.70" stroke="#000" stroke-width="1.2"/>
<rect x="438.55" y="170.40" width="14.50" height="46.00" fill="#000"/>
<text x="448.00" y="226.00" font-size="7.4" text-anchor="end" font-weight="bold" transform="rotate(-44 448.00 226.00)" stroke="#000" stroke-width="0.55">SHK+HFD+Exe</text>
<text x="293.30" y="184.40" font-size="8" text-anchor="middle" font-weight="bold" transform="rotate(-90 293.30 184.40)" stroke="#000" stroke-width="0.55">Food intake (kcal/Kg/hr)</text>
<line x1="38.60" y1="287.87" x2="38.60" y2="385.50" stroke="#000" stroke-width="1.5"/>
<line x1="36.10" y1="288.47" x2="38.60" y2="288.47" stroke="#000" stroke-width="1.5"/>
<text x="29.60" y="291.32" font-size="7.9" text-anchor="end" font-weight="bold" stroke="#000" stroke-width="0.55">35.0</text>
<line x1="36.10" y1="302.25" x2="38.60" y2="302.25" stroke="#000" stroke-width="1.5"/>
<text x="29.60" y="305.09" font-size="7.9" text-anchor="end" font-weight="bold" stroke="#000" stroke-width="0.55">30.0</text>
<line x1="36.10" y1="316.02" x2="38.60" y2="316.02" stroke="#000" stroke-width="1.5"/>
<text x="29.60" y="318.87" font-size="7.9" text-anchor="end" font-weight="bold" stroke="#000" stroke-width="0.55">25.0</text>
<line x1="36.10" y1="329.80" x2="38.60" y2="329.80" stroke="#000" stroke-width="1.5"/>
<text x="29.60" y="332.64" font-size="7.9" text-anchor="end" font-weight="bold" stroke="#000" stroke-width="0.55">20.0</text>
<line x1="36.10" y1="343.57" x2="38.60" y2="343.57" stroke="#000" stroke-width="1.5"/>
<text x="29.60" y="346.42" font-size="7.9" text-anchor="end" font-weight="bold" stroke="#000" stroke-width="0.55">15.0</text>
<line x1="36.10" y1="357.35" x2="38.60" y2="357.35" stroke="#000" stroke-width="1.5"/>
<text x="29.60" y="360.19" font-size="7.9" text-anchor="end" font-weight="bold" stroke="#000" stroke-width="0.55">10.0</text>
<line x1="36.10" y1="371.12" x2="38.60" y2="371.12" stroke="#000" stroke-width="1.5"/>
<text x="29.60" y="373.97" font-size="7.9" text-anchor="end" font-weight="bold" stroke="#000" stroke-width="0.55">5.0</text>
<line x1="36.10" y1="384.90" x2="38.60" y2="384.90" stroke="#000" stroke-width="1.5"/>
<text x="29.60" y="387.74" font-size="7.9" text-anchor="end" font-weight="bold" stroke="#000" stroke-width="0.55">0.0</text>
<line x1="38.00" y1="384.90" x2="164.20" y2="384.90" stroke="#000" stroke-width="1.5"/>
<line x1="38.60" y1="384.90" x2="38.60" y2="386.90" stroke="#000" stroke-width="1.5"/>
<line x1="70.40" y1="384.90" x2="70.40" y2="386.90" stroke="#000" stroke-width="1.5"/>
<line x1="102.10" y1="384.90" x2="102.10" y2="386.90" stroke="#000" stroke-width="1.5"/>
<line x1="133.80" y1="384.90" x2="133.80" y2="386.90" stroke="#000" stroke-width="1.5"/>
<line x1="164.20" y1="384.90" x2="164.20" y2="386.90" stroke="#000" stroke-width="1.5"/>
<text x="54.50" y="397.07" font-size="7.7" text-anchor="middle" font-weight="bold" stroke="#000" stroke-width="0.55">0</text>
<text x="86.20" y="397.07" font-size="7.7" text-anchor="middle" font-weight="bold" stroke="#000" stroke-width="0.55">30</text>
<text x="118.00" y="397.07" font-size="7.7" text-anchor="middle" font-weight="bold" stroke="#000" stroke-width="0.55">60</text>
<text x="149.00" y="397.07" font-size="7.7" text-anchor="middle" font-weight="bold" stroke="#000" stroke-width="0.55">120</text>
<text x="103.30" y="401.77" font-size="7.7" text-anchor="middle" font-weight="bold" stroke="#000" stroke-width="0.55">mins</text>
<text x="6.40" y="332.00" font-size="8" text-anchor="middle" font-weight="bold" transform="rotate(-90 6.40 332.00)" stroke="#000" stroke-width="0.55">Blood glucose(mmol/L)</text>
<line x1="54.50" y1="346.00" x2="54.50" y2="354.40" stroke="#000" stroke-width="0.9"/>
<line x1="52.90" y1="346.00" x2="56.10" y2="346.00" stroke="#000" stroke-width="0.9"/>
<line x1="52.90" y1="354.40" x2="56.10" y2="354.40" stroke="#000" stroke-width="0.9"/>
<line x1="54.50" y1="350.50" x2="54.50" y2="361.50" stroke="#000" stroke-width="0.9"/>
<line x1="52.90" y1="350.50" x2="56.10" y2="350.50" stroke="#000" stroke-width="0.9"/>
<line x1="52.90" y1="361.50" x2="56.10" y2="361.50" stroke="#000" stroke-width="0.9"/>
<line x1="54.50" y1="353.50" x2="54.50" y2="367.50" stroke="#000" stroke-width="0.9"/>
<line x1="52.90" y1="353.50" x2="56.10" y2="353.50" stroke="#000" stroke-width="0.9"/>
<line x1="52.90" y1="367.50" x2="56.10" y2="367.50" stroke="#000" stroke-width="0.9"/>
<line x1="54.50" y1="359.70" x2="54.50" y2="365.70" stroke="#000" stroke-width="0.9"/>
<line x1="52.90" y1="359.70" x2="56.10" y2="359.70" stroke="#000" stroke-width="0.9"/>
<line x1="52.90" y1="365.70" x2="56.10" y2="365.70" stroke="#000" stroke-width="0.9"/>
<line x1="86.20" y1="304.00" x2="86.20" y2="314.50" stroke="#000" stroke-width="0.9"/>
<line x1="84.60" y1="304.00" x2="87.80" y2="304.00" stroke="#000" stroke-width="0.9"/>
<line x1="84.60" y1="314.50" x2="87.80" y2="314.50" stroke="#000" stroke-width="0.9"/>
<line x1="86.20" y1="313.00" x2="86.20" y2="324.00" stroke="#000" stroke-width="0.9"/>
<line x1="84.60" y1="313.00" x2="87.80" y2="313.00" stroke="#000" stroke-width="0.9"/>
<line x1="84.60" y1="324.00" x2="87.80" y2="324.00" stroke="#000" stroke-width="0.9"/>
<line x1="86.20" y1="331.80" x2="86.20" y2="345.80" stroke="#000" stroke-width="0.9"/>
<line x1="84.60" y1="331.80" x2="87.80" y2="331.80" stroke="#000" stroke-width="0.9"/>
<line x1="84.60" y1="345.80" x2="87.80" y2="345.80" stroke="#000" stroke-width="0.9"/>
<line x1="86.20" y1="335.80" x2="86.20" y2="341.80" stroke="#000" stroke-width="0.9"/>
<line x1="84.60" y1="335.80" x2="87.80" y2="335.80" stroke="#000" stroke-width="0.9"/>
<line x1="84.60" y1="341.80" x2="87.80" y2="341.80" stroke="#000" stroke-width="0.9"/>
<line x1="118.00" y1="304.50" x2="118.00" y2="320.50" stroke="#000" stroke-width="0.9"/>
<line x1="116.40" y1="304.50" x2="119.60" y2="304.50" stroke="#000" stroke-width="0.9"/>
<line x1="116.40" y1="320.50" x2="119.60" y2="320.50" stroke="#000" stroke-width="0.9"/>
<line x1="118.00" y1="335.00" x2="118.00" y2="346.00" stroke="#000" stroke-width="0.9"/>
<line x1="116.40" y1="335.00" x2="119.60" y2="335.00" stroke="#000" stroke-width="0.9"/>
<line x1="116.40" y1="346.00" x2="119.60" y2="346.00" stroke="#000" stroke-width="0.9"/>
<line x1="118.00" y1="343.60" x2="118.00" y2="357.60" stroke="#000" stroke-width="0.9"/>
<line x1="116.40" y1="343.60" x2="119.60" y2="343.60" stroke="#000" stroke-width="0.9"/>
<line x1="116.40" y1="357.60" x2="119.60" y2="357.60" stroke="#000" stroke-width="0.9"/>
<line x1="118.00" y1="350.50" x2="118.00" y2="356.50" stroke="#000" stroke-width="0.9"/>
<line x1="116.40" y1="350.50" x2="119.60" y2="350.50" stroke="#000" stroke-width="0.9"/>
<line x1="116.40" y1="356.50" x2="119.60" y2="356.50" stroke="#000" stroke-width="0.9"/>
<line x1="149.00" y1="340.00" x2="149.00" y2="351.30" stroke="#000" stroke-width="0.9"/>
<line x1="147.40" y1="340.00" x2="150.60" y2="340.00" stroke="#000" stroke-width="0.9"/>
<line x1="147.40" y1="351.30" x2="150.60" y2="351.30" stroke="#000" stroke-width="0.9"/>
<line x1="149.00" y1="344.00" x2="149.00" y2="355.00" stroke="#000" stroke-width="0.9"/>
<line x1="147.40" y1="344.00" x2="150.60" y2="344.00" stroke="#000" stroke-width="0.9"/>
<line x1="147.40" y1="355.00" x2="150.60" y2="355.00" stroke="#000" stroke-width="0.9"/>
<line x1="149.00" y1="348.50" x2="149.00" y2="362.50" stroke="#000" stroke-width="0.9"/>
<line x1="147.40" y1="348.50" x2="150.60" y2="348.50" stroke="#000" stroke-width="0.9"/>
<line x1="147.40" y1="362.50" x2="150.60" y2="362.50" stroke="#000" stroke-width="0.9"/>
<line x1="149.00" y1="355.50" x2="149.00" y2="361.50" stroke="#000" stroke-width="0.9"/>
<line x1="147.40" y1="355.50" x2="150.60" y2="355.50" stroke="#000" stroke-width="0.9"/>
<line x1="147.40" y1="361.50" x2="150.60" y2="361.50" stroke="#000" stroke-width="0.9"/>
<polyline points="54.50,348.40 86.20,308.50 118.00,314.50 149.00,345.30" fill="none" stroke="#000" stroke-width="1.6" stroke-dasharray="4,2.5" stroke-linejoin="round"/>
<polyline points="54.50,353.00 86.20,318.00 118.00,327.00 149.00,351.00" fill="none" stroke="#000" stroke-width="1.8" stroke-dasharray="8,3.5" stroke-linejoin="round"/>
<polyline points="54.50,355.50 86.20,318.00 118.00,340.00 149.00,349.00" fill="none" stroke="#000" stroke-width="1.5" stroke-dasharray="1.4,1.5" stroke-linejoin="round"/>
<polyline points="54.50,357.50 86.20,335.80 118.00,347.60 149.00,352.50" fill="none" stroke="#000" stroke-width="1.8" stroke-dasharray="8,3,1.6,3" stroke-linejoin="round"/>
<polyline points="54.50,362.70 86.20,338.80 118.00,353.50 149.00,358.50" fill="none" stroke="#000" stroke-width="1.9" stroke-linejoin="round"/>
<rect x="52.30" y="346.20" width="4.40" height="4.40" fill="#fff" stroke="#000" stroke-width="1.1"/>
<polygon points="54.50,350.50 56.60,354.80 52.40,354.80" fill="#fff" stroke="#000" stroke-width="1.1"/>
<rect x="52.00" y="353.00" width="5.00" height="5.00" fill="#000"/>
<polygon points="54.50,354.28 57.30,359.88 51.70,359.88" fill="#000"/>
<circle cx="54.50" cy="362.70" r="2.94" fill="#000"/>
<rect x="84.00" y="306.30" width="4.40" height="4.40" fill="#fff" stroke="#000" stroke-width="1.1"/>
<polygon points="86.20,315.50 88.30,319.80 84.10,319.80" fill="#fff" stroke="#000" stroke-width="1.1"/>
<rect x="83.70" y="315.50" width="5.00" height="5.00" fill="#000"/>
<polygon points="86.20,332.58 89.00,338.18 83.40,338.18" fill="#000"/>
<circle cx="86.20" cy="338.80" r="2.94" fill="#000"/>
<rect x="115.80" y="312.30" width="4.40" height="4.40" fill="#fff" stroke="#000" stroke-width="1.1"/>
<polygon points="118.00,324.50 120.10,328.80 115.90,328.80" fill="#fff" stroke="#000" stroke-width="1.1"/>
<rect x="115.50" y="337.50" width="5.00" height="5.00" fill="#000"/>
<polygon points="118.00,344.38 120.80,349.98 115.20,349.98" fill="#000"/>
<circle cx="118.00" cy="353.50" r="2.94" fill="#000"/>
<rect x="146.80" y="343.10" width="4.40" height="4.40" fill="#fff" stroke="#000" stroke-width="1.1"/>
<polygon points="149.00,348.50 151.10,352.80 146.90,352.80" fill="#fff" stroke="#000" stroke-width="1.1"/>
<rect x="146.50" y="346.50" width="5.00" height="5.00" fill="#000"/>
<polygon points="149.00,349.28 151.80,354.88 146.20,354.88" fill="#000"/>
<circle cx="149.00" cy="358.50" r="2.94" fill="#000"/>
<polygon points="86.20,313.82 89.40,320.22 83.00,320.22" fill="#000"/>
<polygon points="86.20,331.20 89.50,337.81 82.90,337.81" fill="#000"/>
<line x1="49.55" y1="368.48" x2="49.55" y2="373.31" stroke="#000" stroke-width="1.3"/>
<line x1="51.64" y1="369.69" x2="47.45" y2="372.11" stroke="#000" stroke-width="1.3"/>
<line x1="51.64" y1="372.11" x2="47.45" y2="369.69" stroke="#000" stroke-width="1.3"/>
<text x="54.37" y="374.08" font-size="8.0" text-anchor="middle" font-weight="bold" stroke="#000" stroke-width="0.55">#</text>
<text x="58.45" y="374.08" font-size="6.80" text-anchor="middle" font-weight="bold" stroke="#000" stroke-width="0.55" transform="translate(58.45 0) scale(0.75 1) translate(-58.45 0)">§</text>
<text x="62.53" y="375.25" font-size="9.60" text-anchor="middle" font-weight="bold" stroke="#000" stroke-width="0.55" transform="translate(62.53 0) scale(0.85 1) translate(-62.53 0)">†</text>
<line x1="80.85" y1="351.58" x2="80.85" y2="356.42" stroke="#000" stroke-width="1.3"/>
<line x1="82.94" y1="352.79" x2="78.75" y2="355.21" stroke="#000" stroke-width="1.3"/>
<line x1="82.94" y1="355.21" x2="78.75" y2="352.79" stroke="#000" stroke-width="1.3"/>
<text x="85.67" y="357.18" font-size="8.0" text-anchor="middle" font-weight="bold" stroke="#000" stroke-width="0.55">#</text>
<text x="89.75" y="357.18" font-size="6.80" text-anchor="middle" font-weight="bold" stroke="#000" stroke-width="0.55" transform="translate(89.75 0) scale(0.75 1) translate(-89.75 0)">§</text>
<text x="93.83" y="358.35" font-size="9.60" text-anchor="middle" font-weight="bold" stroke="#000" stroke-width="0.55" transform="translate(93.83 0) scale(0.85 1) translate(-93.83 0)">†</text>
<line x1="112.75" y1="360.98" x2="112.75" y2="365.81" stroke="#000" stroke-width="1.3"/>
<line x1="114.84" y1="362.19" x2="110.65" y2="364.61" stroke="#000" stroke-width="1.3"/>
<line x1="114.84" y1="364.61" x2="110.65" y2="362.19" stroke="#000" stroke-width="1.3"/>
<text x="117.57" y="366.58" font-size="8.0" text-anchor="middle" font-weight="bold" stroke="#000" stroke-width="0.55">#</text>
<text x="121.65" y="366.58" font-size="6.80" text-anchor="middle" font-weight="bold" stroke="#000" stroke-width="0.55" transform="translate(121.65 0) scale(0.75 1) translate(-121.65 0)">§</text>
<text x="125.73" y="367.75" font-size="9.60" text-anchor="middle" font-weight="bold" stroke="#000" stroke-width="0.55" transform="translate(125.73 0) scale(0.85 1) translate(-125.73 0)">†</text>
<line x1="149.00" y1="365.78" x2="149.00" y2="370.62" stroke="#000" stroke-width="1.3"/>
<line x1="151.09" y1="366.99" x2="146.91" y2="369.41" stroke="#000" stroke-width="1.3"/>
<line x1="151.09" y1="369.41" x2="146.91" y2="366.99" stroke="#000" stroke-width="1.3"/>
<line x1="100.70" y1="278.60" x2="122.00" y2="278.60" stroke="#000" stroke-width="1.45"/>
<circle cx="111.35" cy="278.60" r="2.05" fill="#000"/>
<text x="123.70" y="281.01" font-size="6.7" text-anchor="start" font-weight="bold" stroke="#000" stroke-width="0.3">WT+chow</text>
<line x1="100.70" y1="285.10" x2="122.00" y2="285.10" stroke="#000" stroke-width="1.45" stroke-dasharray="1.5,2"/>
<rect x="109.20" y="282.95" width="4.30" height="4.30" fill="#000"/>
<text x="123.70" y="287.51" font-size="6.7" text-anchor="start" font-weight="bold" stroke="#000" stroke-width="0.3">WT+HFD</text>
<line x1="100.70" y1="291.60" x2="122.00" y2="291.60" stroke="#000" stroke-width="1.45" stroke-dasharray="11.5,4.5,1.6,10"/>
<polygon points="111.35,289.36 113.30,293.26 109.40,293.26" fill="#000"/>
<text x="123.70" y="294.01" font-size="6.7" text-anchor="start" font-weight="bold" stroke="#000" stroke-width="0.3">WT+HFD+Exe</text>
<line x1="100.70" y1="298.00" x2="122.00" y2="298.00" stroke="#000" stroke-width="1.45" stroke-dasharray="3.2,2"/>
<rect x="109.70" y="296.35" width="3.30" height="3.30" fill="#fff" stroke="#000" stroke-width="1.1"/>
<text x="123.70" y="300.41" font-size="6.7" text-anchor="start" font-weight="bold" stroke="#000" stroke-width="0.3">SHK+HFD</text>
<line x1="100.70" y1="304.50" x2="122.00" y2="304.50" stroke="#000" stroke-width="1.45" stroke-dasharray="11.5,4.5,4,10"/>
<polygon points="111.35,302.26 113.30,306.16 109.40,306.16" fill="#000"/>
<text x="123.70" y="306.91" font-size="6.7" text-anchor="start" font-weight="bold" stroke="#000" stroke-width="0.3">SHK+HFD+Exe</text>
<line x1="185.40" y1="325.20" x2="185.40" y2="362.20" stroke="#000" stroke-width="1.5"/>
<line x1="183.40" y1="325.90" x2="185.40" y2="325.90" stroke="#000" stroke-width="1.5"/>
<text x="181.80" y="328.42" font-size="7.0" text-anchor="end" font-weight="bold" stroke="#000" stroke-width="0.3">2000</text>
<line x1="183.40" y1="334.80" x2="185.40" y2="334.80" stroke="#000" stroke-width="1.5"/>
<text x="181.80" y="337.32" font-size="7.0" text-anchor="end" font-weight="bold" stroke="#000" stroke-width="0.3">1500</text>
<line x1="183.40" y1="343.70" x2="185.40" y2="343.70" stroke="#000" stroke-width="1.5"/>
<text x="181.80" y="346.22" font-size="7.0" text-anchor="end" font-weight="bold" stroke="#000" stroke-width="0.3">1000</text>
<line x1="183.40" y1="352.70" x2="185.40" y2="352.70" stroke="#000" stroke-width="1.5"/>
<text x="181.80" y="355.22" font-size="7.0" text-anchor="end" font-weight="bold" stroke="#000" stroke-width="0.3">500</text>
<line x1="183.40" y1="361.60" x2="185.40" y2="361.60" stroke="#000" stroke-width="1.5"/>
<text x="181.80" y="364.12" font-size="7.0" text-anchor="end" font-weight="bold" stroke="#000" stroke-width="0.3">0</text>
<line x1="184.80" y1="361.60" x2="247.70" y2="361.60" stroke="#000" stroke-width="1.5"/>
<line x1="185.40" y1="361.60" x2="185.40" y2="363.60" stroke="#000" stroke-width="1.5"/>
<line x1="197.86" y1="361.60" x2="197.86" y2="363.60" stroke="#000" stroke-width="1.5"/>
<line x1="210.32" y1="361.60" x2="210.32" y2="363.60" stroke="#000" stroke-width="1.5"/>
<line x1="222.78" y1="361.60" x2="222.78" y2="363.60" stroke="#000" stroke-width="1.5"/>
<line x1="235.24" y1="361.60" x2="235.24" y2="363.60" stroke="#000" stroke-width="1.5"/>
<line x1="247.70" y1="361.60" x2="247.70" y2="363.60" stroke="#000" stroke-width="1.5"/>
<rect x="189.30" y="340.60" width="6.00" height="21.00" fill="#000"/>
<line x1="191.30" y1="339.80" x2="193.30" y2="339.80" stroke="#000" stroke-width="0.8"/>
<rect x="201.50" y="332.50" width="6.00" height="29.10" fill="#000"/>
<line x1="203.50" y1="331.70" x2="205.50" y2="331.70" stroke="#000" stroke-width="0.8"/>
<rect x="214.20" y="337.50" width="6.00" height="24.10" fill="#000"/>
<line x1="216.20" y1="336.70" x2="218.20" y2="336.70" stroke="#000" stroke-width="0.8"/>
<rect x="226.40" y="328.20" width="6.00" height="33.40" fill="#000"/>
<line x1="228.40" y1="327.40" x2="230.40" y2="327.40" stroke="#000" stroke-width="0.8"/>
<rect x="238.50" y="332.70" width="6.00" height="28.90" fill="#000"/>
<line x1="240.50" y1="331.90" x2="242.50" y2="331.90" stroke="#000" stroke-width="0.8"/>
<text x="194.10" y="370.30" font-size="6.4" text-anchor="end" font-weight="bold" transform="rotate(-45 194.10 370.30)" stroke="#000" stroke-width="0.3">WT+chow</text>
<text x="206.30" y="370.30" font-size="6.4" text-anchor="end" font-weight="bold" transform="rotate(-45 206.30 370.30)" stroke="#000" stroke-width="0.3">WT+HFD</text>
<text x="219.00" y="370.30" font-size="6.4" text-anchor="end" font-weight="bold" transform="rotate(-45 219.00 370.30)" stroke="#000" stroke-width="0.3">WT+HFD+Exe</text>
<text x="231.20" y="370.30" font-size="6.4" text-anchor="end" font-weight="bold" transform="rotate(-45 231.20 370.30)" stroke="#000" stroke-width="0.3">SHK+HFD</text>
<text x="243.30" y="370.30" font-size="6.4" text-anchor="end" font-weight="bold" transform="rotate(-45 243.30 370.30)" stroke="#000" stroke-width="0.3">SHK+HFD+Exe</text>
<text x="214.20" y="308.23" font-size="7.3" text-anchor="middle" font-weight="bold" stroke="#000" stroke-width="0.55">Area Under Curve</text>
<line x1="189.20" y1="326.80" x2="204.80" y2="326.80" stroke="#000" stroke-width="1.2"/>
<line x1="197.00" y1="320.48" x2="197.00" y2="325.31" stroke="#000" stroke-width="1.3"/>
<line x1="199.09" y1="321.69" x2="194.91" y2="324.11" stroke="#000" stroke-width="1.3"/>
<line x1="199.09" y1="324.11" x2="194.91" y2="321.69" stroke="#000" stroke-width="1.3"/>
<line x1="202.20" y1="329.90" x2="216.60" y2="329.90" stroke="#000" stroke-width="1.2"/>
<text x="210.30" y="328.39" font-size="7.2" text-anchor="middle" font-weight="bold" stroke="#000" stroke-width="0.55">#</text>
<line x1="216.60" y1="324.30" x2="243.70" y2="324.30" stroke="#000" stroke-width="1.2"/>
<text x="230.60" y="323.24" font-size="8.64" text-anchor="middle" font-weight="bold" stroke="#000" stroke-width="0.55" transform="translate(230.60 0) scale(0.85 1) translate(-230.60 0)">†</text>
<line x1="310.40" y1="291.20" x2="310.40" y2="384.10" stroke="#000" stroke-width="1.5"/>
<line x1="307.90" y1="291.80" x2="310.40" y2="291.80" stroke="#000" stroke-width="1.5"/>
<text x="301.20" y="294.64" font-size="7.9" text-anchor="end" font-weight="bold" stroke="#000" stroke-width="0.55">14.0</text>
<line x1="307.90" y1="304.90" x2="310.40" y2="304.90" stroke="#000" stroke-width="1.5"/>
<text x="301.20" y="307.74" font-size="7.9" text-anchor="end" font-weight="bold" stroke="#000" stroke-width="0.55">12.0</text>
<line x1="307.90" y1="318.00" x2="310.40" y2="318.00" stroke="#000" stroke-width="1.5"/>
<text x="301.20" y="320.84" font-size="7.9" text-anchor="end" font-weight="bold" stroke="#000" stroke-width="0.55">10.0</text>
<line x1="307.90" y1="331.10" x2="310.40" y2="331.10" stroke="#000" stroke-width="1.5"/>
<text x="301.20" y="333.94" font-size="7.9" text-anchor="end" font-weight="bold" stroke="#000" stroke-width="0.55">8.0</text>
<line x1="307.90" y1="344.20" x2="310.40" y2="344.20" stroke="#000" stroke-width="1.5"/>
<text x="301.20" y="347.04" font-size="7.9" text-anchor="end" font-weight="bold" stroke="#000" stroke-width="0.55">6.0</text>
<line x1="307.90" y1="357.30" x2="310.40" y2="357.30" stroke="#000" stroke-width="1.5"/>
<text x="301.20" y="360.14" font-size="7.9" text-anchor="end" font-weight="bold" stroke="#000" stroke-width="0.55">4.0</text>
<line x1="307.90" y1="370.40" x2="310.40" y2="370.40" stroke="#000" stroke-width="1.5"/>
<text x="301.20" y="373.24" font-size="7.9" text-anchor="end" font-weight="bold" stroke="#000" stroke-width="0.55">2.0</text>
<line x1="307.90" y1="383.50" x2="310.40" y2="383.50" stroke="#000" stroke-width="1.5"/>
<text x="301.20" y="386.34" font-size="7.9" text-anchor="end" font-weight="bold" stroke="#000" stroke-width="0.55">0.0</text>
<line x1="309.80" y1="383.50" x2="426.30" y2="383.50" stroke="#000" stroke-width="1.5"/>
<line x1="310.40" y1="383.50" x2="310.40" y2="385.50" stroke="#000" stroke-width="1.5"/>
<line x1="339.80" y1="383.50" x2="339.80" y2="385.50" stroke="#000" stroke-width="1.5"/>
<line x1="368.70" y1="383.50" x2="368.70" y2="385.50" stroke="#000" stroke-width="1.5"/>
<line x1="397.50" y1="383.50" x2="397.50" y2="385.50" stroke="#000" stroke-width="1.5"/>
<line x1="426.30" y1="383.50" x2="426.30" y2="385.50" stroke="#000" stroke-width="1.5"/>
<text x="324.90" y="396.07" font-size="7.7" text-anchor="middle" font-weight="bold" stroke="#000" stroke-width="0.55">0</text>
<text x="353.90" y="396.07" font-size="7.7" text-anchor="middle" font-weight="bold" stroke="#000" stroke-width="0.55">30</text>
<text x="382.90" y="396.07" font-size="7.7" text-anchor="middle" font-weight="bold" stroke="#000" stroke-width="0.55">60</text>
<text x="411.80" y="396.07" font-size="7.7" text-anchor="middle" font-weight="bold" stroke="#000" stroke-width="0.55">120</text>
<text x="370.00" y="401.37" font-size="7.7" text-anchor="middle" font-weight="bold" stroke="#000" stroke-width="0.55">mins</text>
<text x="280.20" y="331.00" font-size="8" text-anchor="middle" font-weight="bold" transform="rotate(-90 280.20 331.00)" stroke="#000" stroke-width="0.55">Blood glucose(mmol/L)</text>
<line x1="324.90" y1="303.70" x2="324.90" y2="316.00" stroke="#000" stroke-width="0.9"/>
<line x1="323.30" y1="303.70" x2="326.50" y2="303.70" stroke="#000" stroke-width="0.9"/>
<line x1="323.30" y1="316.00" x2="326.50" y2="316.00" stroke="#000" stroke-width="0.9"/>
<line x1="324.90" y1="319.00" x2="324.90" y2="332.00" stroke="#000" stroke-width="0.9"/>
<line x1="323.30" y1="319.00" x2="326.50" y2="319.00" stroke="#000" stroke-width="0.9"/>
<line x1="323.30" y1="332.00" x2="326.50" y2="332.00" stroke="#000" stroke-width="0.9"/>
<line x1="324.90" y1="332.60" x2="324.90" y2="340.60" stroke="#000" stroke-width="0.9"/>
<line x1="323.30" y1="332.60" x2="326.50" y2="332.60" stroke="#000" stroke-width="0.9"/>
<line x1="323.30" y1="340.60" x2="326.50" y2="340.60" stroke="#000" stroke-width="0.9"/>
<line x1="353.90" y1="339.30" x2="353.90" y2="348.60" stroke="#000" stroke-width="0.9"/>
<line x1="352.30" y1="339.30" x2="355.50" y2="339.30" stroke="#000" stroke-width="0.9"/>
<line x1="352.30" y1="348.60" x2="355.50" y2="348.60" stroke="#000" stroke-width="0.9"/>
<line x1="353.90" y1="346.00" x2="353.90" y2="359.00" stroke="#000" stroke-width="0.9"/>
<line x1="352.30" y1="346.00" x2="355.50" y2="346.00" stroke="#000" stroke-width="0.9"/>
<line x1="352.30" y1="359.00" x2="355.50" y2="359.00" stroke="#000" stroke-width="0.9"/>
<line x1="353.90" y1="350.90" x2="353.90" y2="358.90" stroke="#000" stroke-width="0.9"/>
<line x1="352.30" y1="350.90" x2="355.50" y2="350.90" stroke="#000" stroke-width="0.9"/>
<line x1="352.30" y1="358.90" x2="355.50" y2="358.90" stroke="#000" stroke-width="0.9"/>
<line x1="382.90" y1="322.50" x2="382.90" y2="341.40" stroke="#000" stroke-width="0.9"/>
<line x1="381.30" y1="322.50" x2="384.50" y2="322.50" stroke="#000" stroke-width="0.9"/>
<line x1="381.30" y1="341.40" x2="384.50" y2="341.40" stroke="#000" stroke-width="0.9"/>
<line x1="382.90" y1="346.00" x2="382.90" y2="359.00" stroke="#000" stroke-width="0.9"/>
<line x1="381.30" y1="346.00" x2="384.50" y2="346.00" stroke="#000" stroke-width="0.9"/>
<line x1="381.30" y1="359.00" x2="384.50" y2="359.00" stroke="#000" stroke-width="0.9"/>
<line x1="382.90" y1="352.50" x2="382.90" y2="360.50" stroke="#000" stroke-width="0.9"/>
<line x1="381.30" y1="352.50" x2="384.50" y2="352.50" stroke="#000" stroke-width="0.9"/>
<line x1="381.30" y1="360.50" x2="384.50" y2="360.50" stroke="#000" stroke-width="0.9"/>
<line x1="411.80" y1="310.70" x2="411.80" y2="326.80" stroke="#000" stroke-width="0.9"/>
<line x1="410.20" y1="310.70" x2="413.40" y2="310.70" stroke="#000" stroke-width="0.9"/>
<line x1="410.20" y1="326.80" x2="413.40" y2="326.80" stroke="#000" stroke-width="0.9"/>
<line x1="411.80" y1="327.00" x2="411.80" y2="340.00" stroke="#000" stroke-width="0.9"/>
<line x1="410.20" y1="327.00" x2="413.40" y2="327.00" stroke="#000" stroke-width="0.9"/>
<line x1="410.20" y1="340.00" x2="413.40" y2="340.00" stroke="#000" stroke-width="0.9"/>
<line x1="411.80" y1="348.20" x2="411.80" y2="356.20" stroke="#000" stroke-width="0.9"/>
<line x1="410.20" y1="348.20" x2="413.40" y2="348.20" stroke="#000" stroke-width="0.9"/>
<line x1="410.20" y1="356.20" x2="413.40" y2="356.20" stroke="#000" stroke-width="0.9"/>
<polyline points="324.90,312.00 353.90,344.60 382.90,337.40 411.80,322.80" fill="none" stroke="#000" stroke-width="1.6" stroke-dasharray="4,2.5" stroke-linejoin="round"/>
<polyline points="324.90,324.00 353.90,346.80 382.90,348.00 411.80,330.00" fill="none" stroke="#000" stroke-width="1.8" stroke-dasharray="8,3.5" stroke-linejoin="round"/>
<polyline points="324.90,323.00 353.90,350.00 382.90,350.00 411.80,331.00" fill="none" stroke="#000" stroke-width="1.5" stroke-dasharray="1.4,1.5" stroke-linejoin="round"/>
<polyline points="324.90,326.30 353.90,351.50 382.90,353.50 411.80,332.50" fill="none" stroke="#000" stroke-width="1.8" stroke-dasharray="8,3,1.6,3" stroke-linejoin="round"/>
<polyline points="324.90,337.60 353.90,355.90 382.90,357.50 411.80,353.20" fill="none" stroke="#000" stroke-width="1.9" stroke-linejoin="round"/>
<rect x="322.70" y="309.80" width="4.40" height="4.40" fill="#fff" stroke="#000" stroke-width="1.1"/>
<polygon points="324.90,321.50 327.00,325.80 322.80,325.80" fill="#fff" stroke="#000" stroke-width="1.1"/>
<rect x="322.40" y="320.50" width="5.00" height="5.00" fill="#000"/>
<polygon points="324.90,323.08 327.70,328.68 322.10,328.68" fill="#000"/>
<circle cx="324.90" cy="337.60" r="2.94" fill="#000"/>
<rect x="351.70" y="342.40" width="4.40" height="4.40" fill="#fff" stroke="#000" stroke-width="1.1"/>
<polygon points="353.90,344.30 356.00,348.60 351.80,348.60" fill="#fff" stroke="#000" stroke-width="1.1"/>
<rect x="351.40" y="347.50" width="5.00" height="5.00" fill="#000"/>
<polygon points="353.90,348.28 356.70,353.88 351.10,353.88" fill="#000"/>
<circle cx="353.90" cy="355.90" r="2.94" fill="#000"/>
<rect x="380.70" y="335.20" width="4.40" height="4.40" fill="#fff" stroke="#000" stroke-width="1.1"/>
<polygon points="382.90,345.50 385.00,349.80 380.80,349.80" fill="#fff" stroke="#000" stroke-width="1.1"/>
<rect x="380.40" y="347.50" width="5.00" height="5.00" fill="#000"/>
<polygon points="382.90,350.28 385.70,355.88 380.10,355.88" fill="#000"/>
<circle cx="382.90" cy="357.50" r="2.94" fill="#000"/>
<rect x="409.60" y="320.60" width="4.40" height="4.40" fill="#fff" stroke="#000" stroke-width="1.1"/>
<polygon points="411.80,327.50 413.90,331.80 409.70,331.80" fill="#fff" stroke="#000" stroke-width="1.1"/>
<rect x="409.30" y="328.50" width="5.00" height="5.00" fill="#000"/>
<polygon points="411.80,329.28 414.60,334.88 409.00,334.88" fill="#000"/>
<circle cx="411.80" cy="353.20" r="2.94" fill="#000"/>
<rect x="351.30" y="343.50" width="5.20" height="12.00" fill="#000"/>
<line x1="323.23" y1="345.28" x2="323.23" y2="350.12" stroke="#000" stroke-width="1.3"/>
<line x1="325.32" y1="346.49" x2="321.13" y2="348.91" stroke="#000" stroke-width="1.3"/>
<line x1="325.32" y1="348.91" x2="321.13" y2="346.49" stroke="#000" stroke-width="1.3"/>
<text x="328.05" y="350.88" font-size="8.0" text-anchor="middle" font-weight="bold" stroke="#000" stroke-width="0.55">#</text>
<line x1="352.33" y1="361.08" x2="352.33" y2="365.92" stroke="#000" stroke-width="1.3"/>
<line x1="354.42" y1="362.29" x2="350.23" y2="364.71" stroke="#000" stroke-width="1.3"/>
<line x1="354.42" y1="364.71" x2="350.23" y2="362.29" stroke="#000" stroke-width="1.3"/>
<text x="357.15" y="367.85" font-size="9.60" text-anchor="middle" font-weight="bold" stroke="#000" stroke-width="0.55" transform="translate(357.15 0) scale(0.85 1) translate(-357.15 0)">†</text>
<line x1="376.25" y1="364.28" x2="376.25" y2="369.12" stroke="#000" stroke-width="1.3"/>
<line x1="378.34" y1="365.49" x2="374.15" y2="367.91" stroke="#000" stroke-width="1.3"/>
<line x1="378.34" y1="367.91" x2="374.15" y2="365.49" stroke="#000" stroke-width="1.3"/>
<text x="381.07" y="369.88" font-size="8.0" text-anchor="middle" font-weight="bold" stroke="#000" stroke-width="0.55">#</text>
<text x="385.15" y="369.88" font-size="6.80" text-anchor="middle" font-weight="bold" stroke="#000" stroke-width="0.55" transform="translate(385.15 0) scale(0.75 1) translate(-385.15 0)">§</text>
<text x="389.23" y="371.05" font-size="9.60" text-anchor="middle" font-weight="bold" stroke="#000" stroke-width="0.55" transform="translate(389.23 0) scale(0.85 1) translate(-389.23 0)">†</text>
<line x1="405.85" y1="361.68" x2="405.85" y2="366.51" stroke="#000" stroke-width="1.3"/>
<line x1="407.94" y1="362.89" x2="403.75" y2="365.31" stroke="#000" stroke-width="1.3"/>
<line x1="407.94" y1="365.31" x2="403.75" y2="362.89" stroke="#000" stroke-width="1.3"/>
<text x="410.67" y="367.28" font-size="8.0" text-anchor="middle" font-weight="bold" stroke="#000" stroke-width="0.55">#</text>
<text x="414.75" y="367.28" font-size="6.80" text-anchor="middle" font-weight="bold" stroke="#000" stroke-width="0.55" transform="translate(414.75 0) scale(0.75 1) translate(-414.75 0)">§</text>
<text x="418.83" y="368.45" font-size="9.60" text-anchor="middle" font-weight="bold" stroke="#000" stroke-width="0.55" transform="translate(418.83 0) scale(0.85 1) translate(-418.83 0)">†</text>
<line x1="343.70" y1="281.50" x2="364.80" y2="281.50" stroke="#000" stroke-width="1.45"/>
<circle cx="354.25" cy="281.50" r="2.05" fill="#000"/>
<text x="366.30" y="283.91" font-size="6.7" text-anchor="start" font-weight="bold" stroke="#000" stroke-width="0.3">WT+chow</text>
<line x1="343.70" y1="288.20" x2="364.80" y2="288.20" stroke="#000" stroke-width="1.45" stroke-dasharray="1.5,2"/>
<rect x="352.10" y="286.05" width="4.30" height="4.30" fill="#000"/>
<text x="366.30" y="290.61" font-size="6.7" text-anchor="start" font-weight="bold" stroke="#000" stroke-width="0.3">WT+HFD</text>
<line x1="343.70" y1="294.60" x2="364.80" y2="294.60" stroke="#000" stroke-width="1.45" stroke-dasharray="11.5,4.5,1.6,10"/>
<polygon points="354.25,292.36 356.20,296.26 352.30,296.26" fill="#000"/>
<text x="366.30" y="297.01" font-size="6.7" text-anchor="start" font-weight="bold" stroke="#000" stroke-width="0.3">WT+HFD+Exe</text>
<line x1="343.70" y1="300.80" x2="364.80" y2="300.80" stroke="#000" stroke-width="1.45" stroke-dasharray="3.2,2"/>
<rect x="352.60" y="299.15" width="3.30" height="3.30" fill="#fff" stroke="#000" stroke-width="1.1"/>
<text x="366.30" y="303.21" font-size="6.7" text-anchor="start" font-weight="bold" stroke="#000" stroke-width="0.3">SHK+HFD</text>
<line x1="343.70" y1="307.10" x2="364.80" y2="307.10" stroke="#000" stroke-width="1.45" stroke-dasharray="11.5,4.5,4,10"/>
<polygon points="354.25,304.86 356.20,308.76 352.30,308.76" fill="#000"/>
<text x="366.30" y="309.51" font-size="6.7" text-anchor="start" font-weight="bold" stroke="#000" stroke-width="0.3">SHK+HFD+Exe</text>
<line x1="457.80" y1="319.60" x2="457.80" y2="361.40" stroke="#000" stroke-width="1.5"/>
<line x1="455.80" y1="320.20" x2="457.80" y2="320.20" stroke="#000" stroke-width="1.5"/>
<text x="452.30" y="322.72" font-size="7.0" text-anchor="end" font-weight="bold" stroke="#000" stroke-width="0.3">800</text>
<line x1="455.80" y1="330.30" x2="457.80" y2="330.30" stroke="#000" stroke-width="1.5"/>
<text x="452.30" y="332.82" font-size="7.0" text-anchor="end" font-weight="bold" stroke="#000" stroke-width="0.3">600</text>
<line x1="455.80" y1="340.40" x2="457.80" y2="340.40" stroke="#000" stroke-width="1.5"/>
<text x="452.30" y="342.92" font-size="7.0" text-anchor="end" font-weight="bold" stroke="#000" stroke-width="0.3">400</text>
<line x1="455.80" y1="350.60" x2="457.80" y2="350.60" stroke="#000" stroke-width="1.5"/>
<text x="452.30" y="353.12" font-size="7.0" text-anchor="end" font-weight="bold" stroke="#000" stroke-width="0.3">200</text>
<line x1="455.80" y1="360.80" x2="457.80" y2="360.80" stroke="#000" stroke-width="1.5"/>
<text x="452.30" y="363.32" font-size="7.0" text-anchor="end" font-weight="bold" stroke="#000" stroke-width="0.3">0</text>
<line x1="457.20" y1="360.80" x2="519.20" y2="360.80" stroke="#000" stroke-width="1.5"/>
<line x1="457.80" y1="360.80" x2="457.80" y2="362.80" stroke="#000" stroke-width="1.5"/>
<line x1="470.08" y1="360.80" x2="470.08" y2="362.80" stroke="#000" stroke-width="1.5"/>
<line x1="482.36" y1="360.80" x2="482.36" y2="362.80" stroke="#000" stroke-width="1.5"/>
<line x1="494.64" y1="360.80" x2="494.64" y2="362.80" stroke="#000" stroke-width="1.5"/>
<line x1="506.92" y1="360.80" x2="506.92" y2="362.80" stroke="#000" stroke-width="1.5"/>
<line x1="519.20" y1="360.80" x2="519.20" y2="362.80" stroke="#000" stroke-width="1.5"/>
<rect x="461.80" y="339.00" width="6.00" height="21.80" fill="#000"/>
<line x1="463.80" y1="338.20" x2="465.80" y2="338.20" stroke="#000" stroke-width="0.8"/>
<rect x="474.00" y="330.60" width="6.00" height="30.20" fill="#000"/>
<line x1="476.00" y1="329.80" x2="478.00" y2="329.80" stroke="#000" stroke-width="0.8"/>
<rect x="485.90" y="335.70" width="6.00" height="25.10" fill="#000"/>
<line x1="487.90" y1="334.90" x2="489.90" y2="334.90" stroke="#000" stroke-width="0.8"/>
<rect x="498.10" y="325.40" width="6.00" height="35.40" fill="#000"/>
<line x1="500.10" y1="324.60" x2="502.10" y2="324.60" stroke="#000" stroke-width="0.8"/>
<rect x="510.10" y="328.60" width="6.00" height="32.20" fill="#000"/>
<line x1="512.10" y1="327.80" x2="514.10" y2="327.80" stroke="#000" stroke-width="0.8"/>
<text x="466.60" y="369.60" font-size="6.4" text-anchor="end" font-weight="bold" transform="rotate(-45 466.60 369.60)" stroke="#000" stroke-width="0.3">WT+chow</text>
<text x="478.80" y="369.60" font-size="6.4" text-anchor="end" font-weight="bold" transform="rotate(-45 478.80 369.60)" stroke="#000" stroke-width="0.3">WT+HFD</text>
<text x="490.70" y="369.60" font-size="6.4" text-anchor="end" font-weight="bold" transform="rotate(-45 490.70 369.60)" stroke="#000" stroke-width="0.3">WT+HFD+Exe</text>
<text x="502.90" y="369.60" font-size="6.4" text-anchor="end" font-weight="bold" transform="rotate(-45 502.90 369.60)" stroke="#000" stroke-width="0.3">SHK+HFD</text>
<text x="514.90" y="369.60" font-size="6.4" text-anchor="end" font-weight="bold" transform="rotate(-45 514.90 369.60)" stroke="#000" stroke-width="0.3">SHK+HFD+Exe</text>
<text x="478.00" y="307.23" font-size="7.3" text-anchor="middle" font-weight="bold" stroke="#000" stroke-width="0.55">Area Under Curve</text>
<line x1="460.50" y1="323.60" x2="475.30" y2="323.60" stroke="#000" stroke-width="1.2"/>
<line x1="469.10" y1="317.58" x2="469.10" y2="322.42" stroke="#000" stroke-width="1.3"/>
<line x1="471.19" y1="318.79" x2="467.01" y2="321.21" stroke="#000" stroke-width="1.3"/>
<line x1="471.19" y1="321.21" x2="467.01" y2="318.79" stroke="#000" stroke-width="1.3"/>
<line x1="474.70" y1="326.70" x2="488.50" y2="326.70" stroke="#000" stroke-width="1.2"/>
<text x="481.70" y="325.35" font-size="6.8" text-anchor="middle" font-weight="bold" stroke="#000" stroke-width="0.55">#</text>
<line x1="476.30" y1="318.40" x2="501.40" y2="318.40" stroke="#000" stroke-width="1.2"/>
<text x="485.30" y="316.74" font-size="6.46" text-anchor="middle" font-weight="bold" stroke="#000" stroke-width="0.55" transform="translate(485.30 0) scale(0.75 1) translate(-485.30 0)">§</text>
<line x1="488.50" y1="315.00" x2="513.50" y2="315.00" stroke="#000" stroke-width="1.2"/>
<text x="502.20" y="314.64" font-size="8.64" text-anchor="middle" font-weight="bold" stroke="#000" stroke-width="0.55" transform="translate(502.20 0) scale(0.85 1) translate(-502.20 0)">†</text>
</g></svg>
</body></html>
